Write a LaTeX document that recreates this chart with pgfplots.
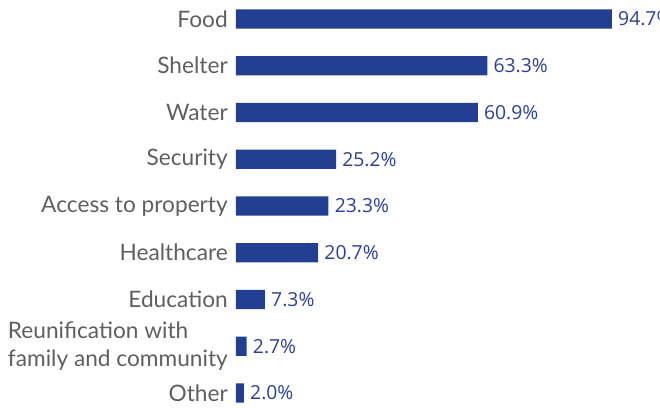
\documentclass[border=0pt]{standalone}
\usepackage{pgfplots}
\pgfplotsset{compat=1.18}
\usepackage{fontspec}
\setmainfont{Lato}
\newfontfamily\valfont{Open Sans}
\definecolor{barblue}{HTML}{233F92}
\definecolor{valblue}{HTML}{2B3F98}
\definecolor{labgray}{HTML}{5F5F5F}
\begin{document}
\begin{tikzpicture}
\begin{axis}[
  scale only axis,
  width=297.75pt, height=305.25pt,
  xbar, bar width=14.5pt,
  xmin=0, xmax=100,
  ymin=-0.406, ymax=8.3,
  y dir=reverse,
  axis line style={draw=none},
  xtick=\empty,
  ytick={0,...,8},
  yticklabels={Food,Shelter,Water,Security,Access to property,Healthcare,Education,{Reunification with\\family and community},Other},
  yticklabel style={font=\fontsize{17pt}{21pt}\selectfont, text=labgray, align=left, anchor=east, inner sep=0pt, xshift=-6pt},
  major tick length=0pt,
  clip=false,
  point meta=x,
  /pgf/number format/assume math mode=true,
  nodes near coords={\valfont\pgfmathprintnumber[fixed,fixed zerofill,precision=1]{\pgfplotspointmeta}\%},
  nodes near coords style={font=\valfont\fontsize{14.5pt}{16pt}\selectfont, text=valblue, anchor=west, inner sep=0pt, xshift=4.5pt},
]
\addplot[fill=barblue, draw=none] coordinates {
(94.7,0) (63.3,1) (60.9,2) (25.2,3) (23.3,4) (20.7,5) (7.3,6) (2.7,7) (2.0,8)
};
\end{axis}
\pgfresetboundingbox
\path[use as bounding box] ([xshift=-177pt]current axis.south west) rectangle ([xshift=318pt]current axis.north west);
\end{tikzpicture}
\end{document}
